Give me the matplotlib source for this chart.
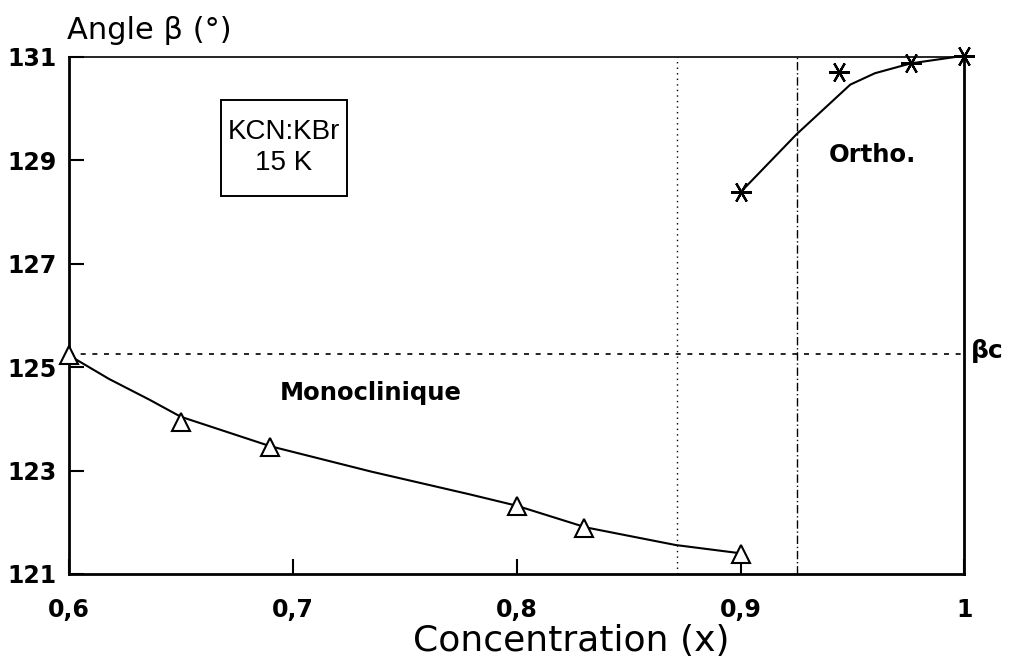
import matplotlib
matplotlib.use("Agg")
import matplotlib.pyplot as plt
from matplotlib.patches import Rectangle

plt.rcParams['font.family'] = ['DejaVu Sans']

# Monoclinic data (triangles)
mono_x = [0.60, 0.65, 0.69, 0.80, 0.83, 0.90]
mono_y = [125.23, 123.93, 123.46, 122.31, 121.88, 121.38]
# Fitted curve through monoclinic points
mono_fit_x = [0.60, 0.618, 0.636, 0.65, 0.69, 0.735, 0.779, 0.80, 0.831, 0.871, 0.90]
mono_fit_y = [125.23, 124.77, 124.37, 124.04, 123.47, 122.98, 122.54, 122.32, 121.90, 121.56, 121.40]

# Orthorhombic data (stars)
ortho_x = [0.90, 0.944, 0.976, 1.00]
ortho_y = [128.38, 130.70, 130.87, 131.02]
ortho_fit_x = [0.90, 0.925, 0.949, 0.96, 0.976, 1.00]
ortho_fit_y = [128.38, 129.50, 130.46, 130.68, 130.87, 131.02]

beta_c = 125.25
phase_bounds = [0.8714, 0.925]

xticks = [0.6, 0.7, 0.8, 0.9, 1.0]
xticklabels = ['0,6', '0,7', '0,8', '0,9', '1']
yticks = [121, 123, 125, 127, 129, 131]

fig = plt.figure(figsize=(10.11, 6.59), dpi=100)
ax = fig.add_axes([0.068, 0.129, 0.886, 0.785])
ax.set_xlim(0.6, 1.0)
ax.set_ylim(121, 131)

for s in ['left', 'bottom', 'right']:
    ax.spines[s].set_linewidth(2.0)
ax.spines['top'].set_linewidth(1.2)

ax.plot(mono_fit_x, mono_fit_y, color='black', lw=1.5)
ax.plot(mono_x, mono_y, linestyle='none', marker='^', markersize=13,
        markerfacecolor='white', markeredgecolor='black', markeredgewidth=1.5, clip_on=False, zorder=5)
ax.plot(ortho_fit_x, ortho_fit_y, color='black', lw=1.5, clip_on=False)
ax.plot(ortho_x, ortho_y, linestyle='none', marker=(6, 2, 30), markersize=15,
        color='black', markeredgewidth=1.6, clip_on=False, zorder=5)

ax.axhline(beta_c, color='black', lw=1.2, linestyle=(0, (3, 4)))
ax.axvline(phase_bounds[0], color='black', lw=1.0, linestyle=(0, (1, 3)))
ax.axvline(phase_bounds[1], color='black', lw=1.0, linestyle=(0, (6, 2, 1, 2)))

ax.set_xticks(xticks)
ax.set_xticklabels(xticklabels)
ax.set_yticks(yticks)
ax.tick_params(direction='in', length=11, width=1.5)
ax.tick_params(axis='x', labelsize=17, pad=17)
ax.tick_params(axis='y', labelsize=17, pad=9)
for lab in ax.get_xticklabels() + ax.get_yticklabels():
    lab.set_fontweight('bold')

fig.text(0.565, 0.027, 'Concentration (x)', fontsize=26, ha='center', va='center')
fig.text(0.066, 0.953, 'Angle β (°)', fontsize=22, ha='left', va='center')

ax.add_patch(Rectangle((0.668, 128.31), 0.0562, 1.86, facecolor='white',
                       edgecolor='black', linewidth=1.4, zorder=4))
ax.text(0.696, 129.24, 'KCN:KBr\n15 K', fontsize=20, ha='center', va='center',
        linespacing=1.25, family='Liberation Sans', zorder=6)
ax.text(0.735, 124.5, 'Monoclinique', fontsize=17.5, fontweight='bold', ha='center', va='center')
ax.text(0.959, 129.1, 'Ortho.', fontsize=17.5, fontweight='bold', ha='center', va='center')
ax.text(1.003, beta_c + 0.06, 'βc', fontsize=18, fontweight='bold', ha='left', va='center', clip_on=False)

fig.savefig('out.png', dpi=100)
